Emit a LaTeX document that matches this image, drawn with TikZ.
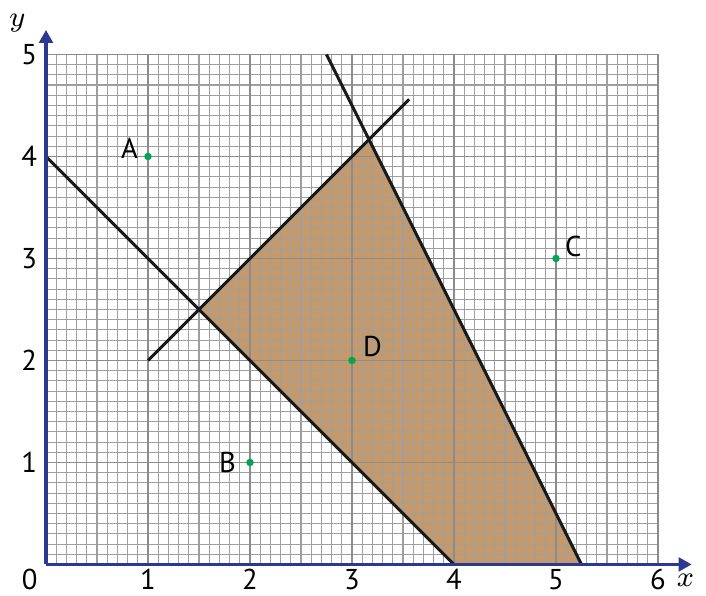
\documentclass[tikz,border=0pt]{standalone}
\usepackage{fontspec}
\setsansfont{PT Sans}
\usetikzlibrary{arrows.meta}
\definecolor{axisblue}{HTML}{2B3990}
\definecolor{regionfill}{HTML}{C49A6C}
\definecolor{dotgreen}{HTML}{00A651}
\tikzset{
  finegrid/.style={gray!75, line width=0.3pt},
  majorgrid/.style={gray!90, line width=0.45pt},
  axisline/.style={axisblue, line width=0.85pt, -{Triangle[length=3.6pt,width=3.8pt]}},
  bound/.style={black!90, line width=0.85pt},
  ticklab/.style={font=\sffamily\fontsize{8}{9}\selectfont, inner sep=0pt},
  ptlab/.style={font=\sffamily\fontsize{8}{9}\selectfont, inner sep=0pt},
  pt/.style={circle, fill=dotgreen, inner sep=0pt, minimum size=2.1pt},
}
\begin{document}
\begin{tikzpicture}[x=1cm,y=1cm]
\useasboundingbox (-0.451,-0.309) rectangle (6.471,5.534);
% region
\fill[regionfill] (1.5,2.5) -- (19/6,25/6) -- (5.25,0) -- (4,0) -- cycle;
% grid
\draw[finegrid] (0,0) grid[step=0.1] (6,5);
\draw[majorgrid] (0,0) grid[step=1] (6,5);
% boundary lines
\coordinate (l1a) at (0,4); \coordinate (l1b) at (4,0);
\coordinate (l2a) at (1,2); \coordinate (l2b) at (3.56,4.56);
\coordinate (l3a) at (2.75,5); \coordinate (l3b) at (5.25,0);
\draw[bound] (l1a) -- (l1b);
\draw[bound] (l2a) -- (l2b);
\draw[bound] (l3a) -- (l3b);
% axes
\coordinate (O) at (0,0);
\coordinate (xend) at (6.33,0);
\coordinate (yend) at (0,5.24);
\draw[axisline] (O) -- (xend);
\draw[axisline] (O) -- (yend);
\node[font=\fontsize{8.5}{9}\selectfont] (xl) at (6.27,-0.16) {$x$};
\node[font=\fontsize{8.5}{9}\selectfont] (yl) at (-0.28,5.31) {$y$};
% ticks
\node[ticklab] (t0) at (-0.16,-0.15) {0};
\foreach \i in {1,...,6} {\node[ticklab] (tx\i) at (\i,-0.15) {\i};}
\foreach \i in {1,...,5} {\node[ticklab] (ty\i) at (-0.165,\i) {\i};}
% points
\node[pt] (A) at (1,4) {};
\node[pt] (B) at (2,1) {};
\node[pt] (C) at (5,3) {};
\node[pt] (D) at (3,2) {};
\node[ptlab] (Al) at (0.82,4.08) {A};
\node[ptlab] (Bl) at (1.78,1.0) {B};
\node[ptlab] (Cl) at (5.17,3.12) {C};
\node[ptlab] (Dl) at (3.2,2.14) {D};
\end{tikzpicture}
\end{document}
